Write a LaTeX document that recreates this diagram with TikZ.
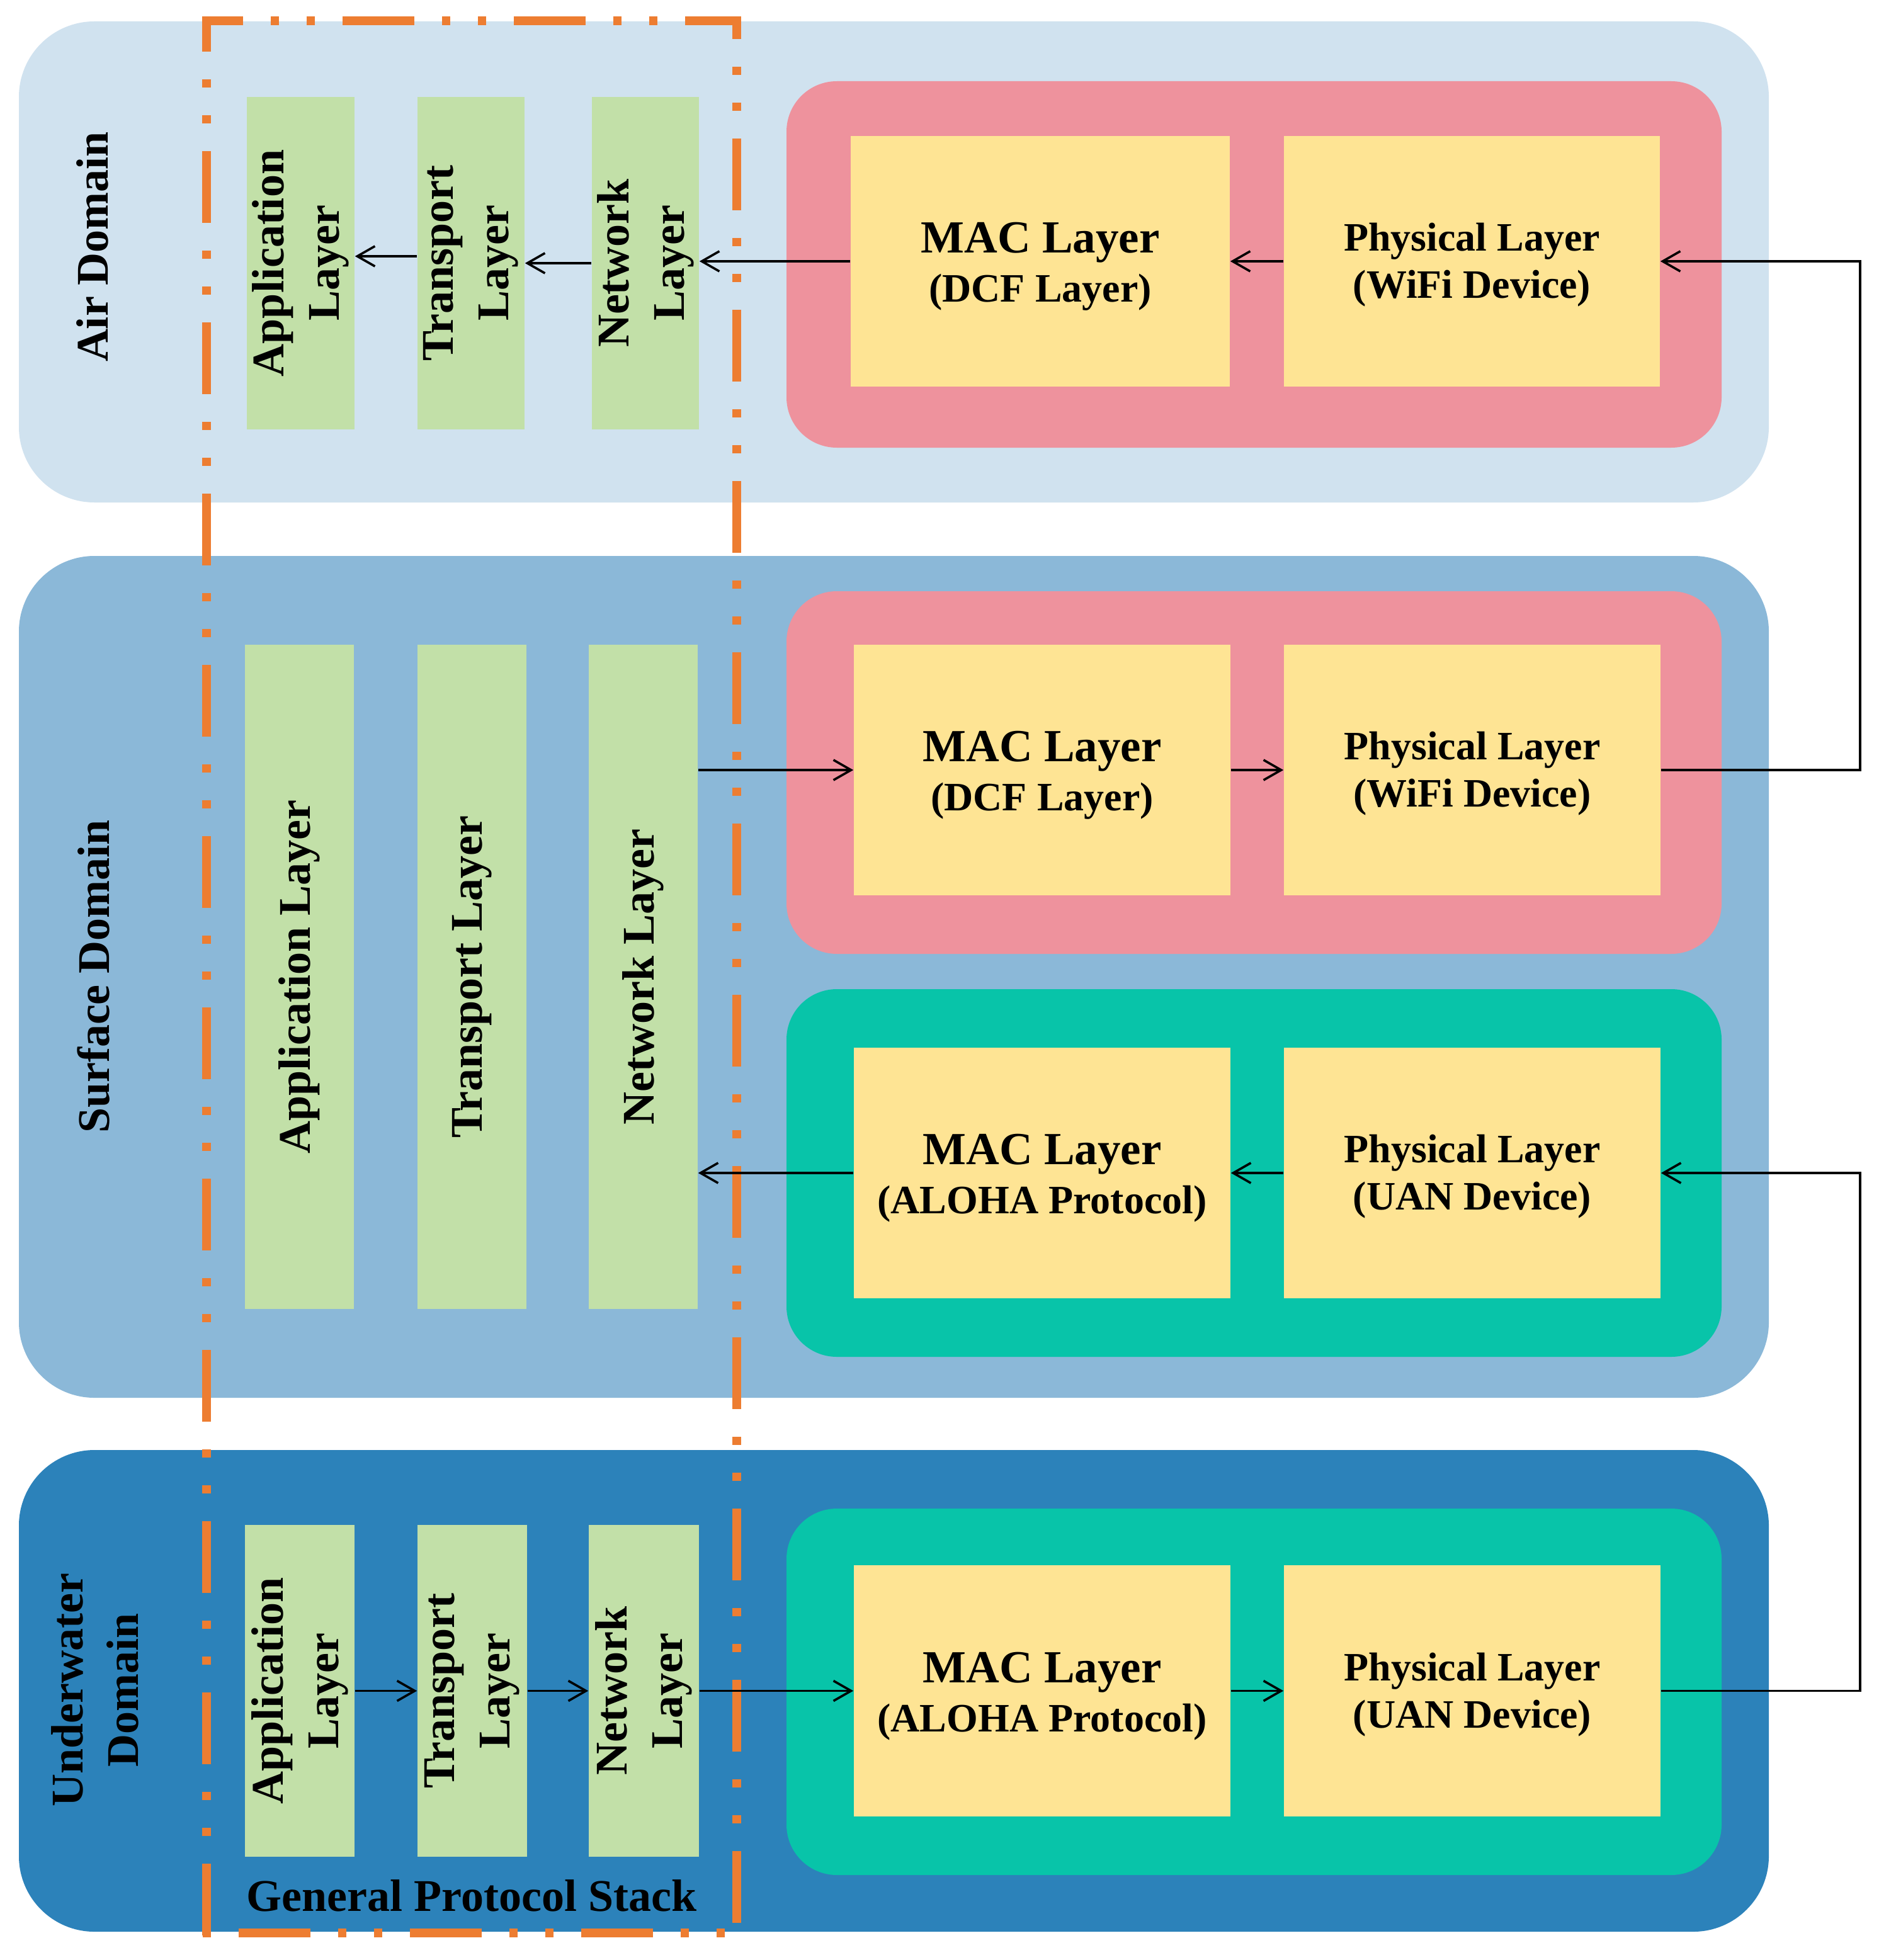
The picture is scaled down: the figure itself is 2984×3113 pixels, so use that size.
\documentclass[tikz,border=0pt]{standalone}
\usepackage{fontspec}
\setmainfont{Liberation Serif}
\usetikzlibrary{arrows.meta,fit}
\definecolor{airc}{RGB}{208,226,239}
\definecolor{surfc}{RGB}{139,184,216}
\definecolor{underc}{RGB}{44,130,186}
\definecolor{pinkc}{RGB}{238,146,157}
\definecolor{tealc}{RGB}{8,196,169}
\definecolor{yelc}{RGB}{254,228,148}
\definecolor{grnc}{RGB}{194,224,168}
\definecolor{orc}{RGB}{237,125,49}
\newcommand{\mactop}{\fontsize{18.25}{19.5}\selectfont}
\begin{document}
\begin{tikzpicture}[x=0.25pt,y=-0.25pt,
  dombox/.style={fit={#1}, inner sep=0pt, rounded corners=30pt, draw=none},
  linkbox/.style={fit={#1}, inner sep=0pt, rounded corners=20pt, draw=none},
  ybox/.style={fit={#1}, inner sep=0pt, fill=yelc, draw=none},
  mtxt/.style={inner sep=0pt, align=center,
     font=\bfseries\fontsize{16}{19.5}\selectfont},
  ptxt/.style={inner sep=0pt, align=center,
     font=\bfseries\fontsize{16}{18.75}\selectfont},
  col/.style={fit={#1}, inner sep=0pt, fill=grnc, draw=none},
  vlab/.style={rotate=90, align=center, inner sep=0pt,
     font=\bfseries\fontsize{18}{22}\selectfont},
  arr/.style={draw=black, line width=0.9pt, -{Straight Barb[length=7pt,width=8pt]}},
  stack/.style={draw=orc, line width=3.5pt,
     dash pattern=on 28.5pt off 11pt on 3.25pt off 11pt on 3.25pt off 11pt}
]
\path[use as bounding box, fill=white] (0,0) rectangle (2984,3113);

% domains
\node[dombox={(30,34) (2809,798)}, fill=airc] (airD) {};
\node[dombox={(30,883) (2809,2220)}, fill=surfc] (surfD) {};
\node[dombox={(30,2303) (2809,3068)}, fill=underc] (undD) {};

% link boxes
\node[linkbox={(1249,129) (2734,711)}, fill=pinkc] (airL) {};
\node[linkbox={(1249,939) (2734,1515)}, fill=pinkc] (surfW) {};
\node[linkbox={(1249,1571) (2734,2155)}, fill=tealc] (surfU) {};
\node[linkbox={(1249,2396) (2734,2978)}, fill=tealc] (undU) {};

% MAC / PHY boxes
\node[ybox={(1351,216) (1953,614)}] (aM) {};
\node[ybox={(2039,216) (2636,614)}] (aP) {};
\node[ybox={(1356,1024) (1954,1422)}] (sWM) {};
\node[ybox={(2039,1024) (2637,1422)}] (sWP) {};
\node[ybox={(1356,1664) (1954,2062)}] (sUM) {};
\node[ybox={(2039,1664) (2637,2062)}] (sUP) {};
\node[ybox={(1356,2486) (1954,2885)}] (uM) {};
\node[ybox={(2039,2486) (2637,2885)}] (uP) {};

\node[mtxt] (aMt) at ([yshift=-2.1pt]aM.center) {{\mactop MAC Layer}\\(DCF Layer)};
\node[ptxt] (aPt) at ([yshift=-1.5pt]aP.center) {Physical Layer\\(WiFi Device)};
\node[mtxt] (sWMt) at ([yshift=-2.1pt]sWM.center) {{\mactop MAC Layer}\\(DCF Layer)};
\node[ptxt] (sWPt) at ([yshift=-1.5pt]sWP.center) {Physical Layer\\(WiFi Device)};
\node[mtxt] (sUMt) at ([yshift=-2.1pt]sUM.center) {{\mactop MAC Layer}\\(ALOHA Protocol)};
\node[ptxt] (sUPt) at ([yshift=-1.5pt]sUP.center) {Physical Layer\\(UAN Device)};
\node[mtxt] (uMt) at ([yshift=-2.1pt]uM.center) {{\mactop MAC Layer}\\(ALOHA Protocol)};
\node[ptxt] (uPt) at ([yshift=-1.5pt]uP.center) {Physical Layer\\(UAN Device)};

% protocol stack columns
\node[col={(392,154) (563,682)}] (aA) {};
\node[col={(663,154) (833,682)}] (aT) {};
\node[col={(940,154) (1110,682)}] (aN) {};
\node[col={(389,1024) (562,2079)}] (sA) {};
\node[col={(663,1024) (836,2079)}] (sT) {};
\node[col={(935,1024) (1108,2079)}] (sN) {};
\node[col={(389,2422) (563,2949)}] (uA) {};
\node[col={(663,2422) (837,2949)}] (uT) {};
\node[col={(935,2422) (1110,2949)}] (uN) {};

% general protocol stack frame (each side with its own dash phase)
\draw[stack, dash phase=12.25pt] (321,33) -- (1177,33);
\draw[stack, dash phase=14.5pt] (328,26) -- (328,3077);
\draw[stack, dash phase=19.5pt] (1170,26) -- (1170,3077);
\draw[stack, dash phase=53.5pt] (321,3070) -- (1177,3070);

% column labels
\node[vlab] (aAl) at (aA) {Application\\Layer};
\node[vlab] (aTl) at (aT) {Transport\\Layer};
\node[vlab] (aNl) at (aN) {Network\\Layer};
\node[vlab] (sAl) at (sA) {Application Layer};
\node[vlab] (sTl) at (sT) {Transport Layer};
\node[vlab] (sNl) at (sN) {Network Layer};
\node[vlab] (uAl) at (uA) {Application\\Layer};
\node[vlab] (uTl) at (uT) {Transport\\Layer};
\node[vlab] (uNl) at (uN) {Network\\Layer};

% domain labels
\node[vlab] (airLab) at (147,392) {Air Domain};
\node[vlab] (surfLab) at (149,1551) {Surface Domain};
\node[vlab] (undLab) at (151,2684) {Underwater\\Domain};
\node[inner sep=0pt, font=\bfseries\fontsize{18}{22}\selectfont] (gps) at (749,3011) {General Protocol Stack};

% arrows: air domain
\draw[arr] ([yshift=2.75pt]aT.west) -- ([yshift=2.75pt]aA.east);
\draw[arr] (aN.west) -- (aT.east);
\draw[arr] (aM.west) -- (aM.west -| aN.east);
\draw[arr] (aP.west) -- (aM.east);
% surface domain
\draw[arr] (sWM.west -| sN.east) -- (sWM.west);
\draw[arr] (sWM.east) -- (sWP.west);
\draw[arr] (sUM.west) -- (sUM.west -| sN.east);
\draw[arr] (sUP.west) -- (sUM.east);
% underwater domain
\draw[arr] (uA.east) -- (uT.west);
\draw[arr] (uT.east) -- (uN.west);
\draw[arr] (uN.east) -- (uM.west);
\draw[arr] (uM.east) -- (uP.west);
% inter-domain links
\coordinate (rx) at (2954,0);
\draw[arr] (sWP.east) -- (sWP.east -| rx) -- (aP.east -| rx) -- (aP.east);
\draw[arr] (uP.east) -- (uP.east -| rx) -- (sUP.east -| rx) -- (sUP.east);
\end{tikzpicture}
\end{document}
